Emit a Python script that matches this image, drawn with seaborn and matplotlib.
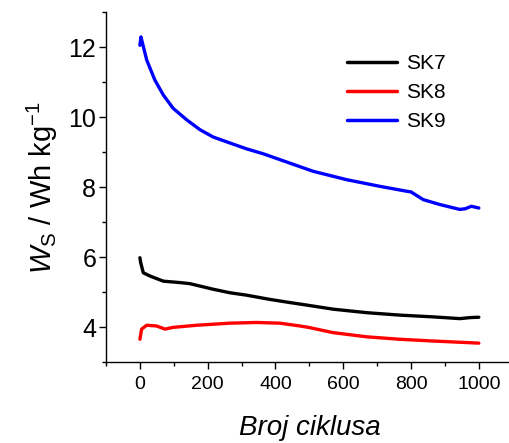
import pandas as pd
import seaborn as sns
import matplotlib.pyplot as plt
from matplotlib.ticker import MultipleLocator

# SK7 (black)
sk7_x = [0, 2, 10, 29, 69, 118, 147, 216, 265, 315, 383, 442, 497, 570, 669, 767, 865, 944, 975, 1000]
sk7_y = [5.98, 5.85, 5.55, 5.46, 5.31, 5.27, 5.24, 5.08, 4.98, 4.91, 4.79, 4.70, 4.62, 4.51, 4.41, 4.34, 4.29, 4.24, 4.27, 4.28]

# SK8 (red)
sk8_x = [0, 5, 20, 49, 74, 98, 167, 265, 344, 413, 472, 497, 570, 669, 767, 865, 1000]
sk8_y = [3.65, 3.94, 4.05, 4.03, 3.94, 3.99, 4.05, 4.11, 4.13, 4.11, 4.03, 3.99, 3.84, 3.72, 3.65, 3.60, 3.54]

# SK9 (blue)
sk9_x = [0, 3, 20, 44, 69, 98, 138, 177, 216, 265, 315, 364, 408, 511, 610, 708,
         787, 800, 836, 885, 944, 960, 978, 1000]
sk9_y = [12.05, 12.29, 11.63, 11.06, 10.63, 10.25, 9.92, 9.64, 9.43, 9.26, 9.09, 8.95, 8.80, 8.45, 8.21, 8.02,
         7.88, 7.86, 7.64, 7.50, 7.36, 7.38, 7.45, 7.40]

labels = ['SK7', 'SK8', 'SK9']
colors = ['black', 'red', 'blue']

df = pd.concat([
    pd.DataFrame({'cycle': sk7_x, 'W': sk7_y, 'sample': 'SK7'}),
    pd.DataFrame({'cycle': sk8_x, 'W': sk8_y, 'sample': 'SK8'}),
    pd.DataFrame({'cycle': sk9_x, 'W': sk9_y, 'sample': 'SK9'}),
], ignore_index=True)

sns.set_style('ticks')
plt.rcParams['font.family'] = ['Liberation Sans', 'DejaVu Sans']
plt.rcParams['mathtext.fontset'] = 'custom'
plt.rcParams['mathtext.rm'] = 'Liberation Sans'
plt.rcParams['mathtext.it'] = 'Liberation Sans:italic'
for k in ['text.color', 'axes.labelcolor', 'xtick.color', 'ytick.color', 'axes.edgecolor']:
    plt.rcParams[k] = 'black'

fig = plt.figure(figsize=(5.09, 4.43), dpi=100)
ax = fig.add_axes([0.2083, 0.1828, 0.799, 0.790])

sns.lineplot(data=df, x='cycle', y='W', hue='sample', hue_order=labels,
             palette=dict(zip(labels, colors)), linewidth=2.4, ax=ax,
             estimator=None, sort=True)

ax.set_xlim(-100, 1100)
ax.set_ylim(3, 13)
ax.xaxis.set_major_locator(MultipleLocator(200))
ax.xaxis.set_minor_locator(MultipleLocator(100))
ax.yaxis.set_major_locator(MultipleLocator(2))
ax.yaxis.set_minor_locator(MultipleLocator(1))
ax.tick_params(axis='both', which='major', direction='out', length=5, width=1, color='black')
ax.tick_params(axis='both', which='minor', direction='out', length=3, width=1, color='black')
ax.tick_params(axis='y', labelsize=18, pad=2)
ax.tick_params(axis='x', labelsize=14, pad=5)
for s in ['top', 'right']:
    ax.spines[s].set_visible(False)
for s in ['left', 'bottom']:
    ax.spines[s].set_linewidth(1)

ax.set_xlabel('Broj ciklusa', fontsize=20, style='italic', labelpad=16)
ax.set_ylabel(r'$W_\mathrm{S}$ / Wh kg$^{-1}$', fontsize=21, labelpad=6)

leg = ax.legend(loc='upper left', bbox_to_anchor=(0.546, 0.933), frameon=False,
                fontsize=15, handlelength=2.4, handletextpad=0.45, labelspacing=0.48)
for line in leg.get_lines():
    line.set_linewidth(2.5)

fig.savefig('out.png', dpi=100)
